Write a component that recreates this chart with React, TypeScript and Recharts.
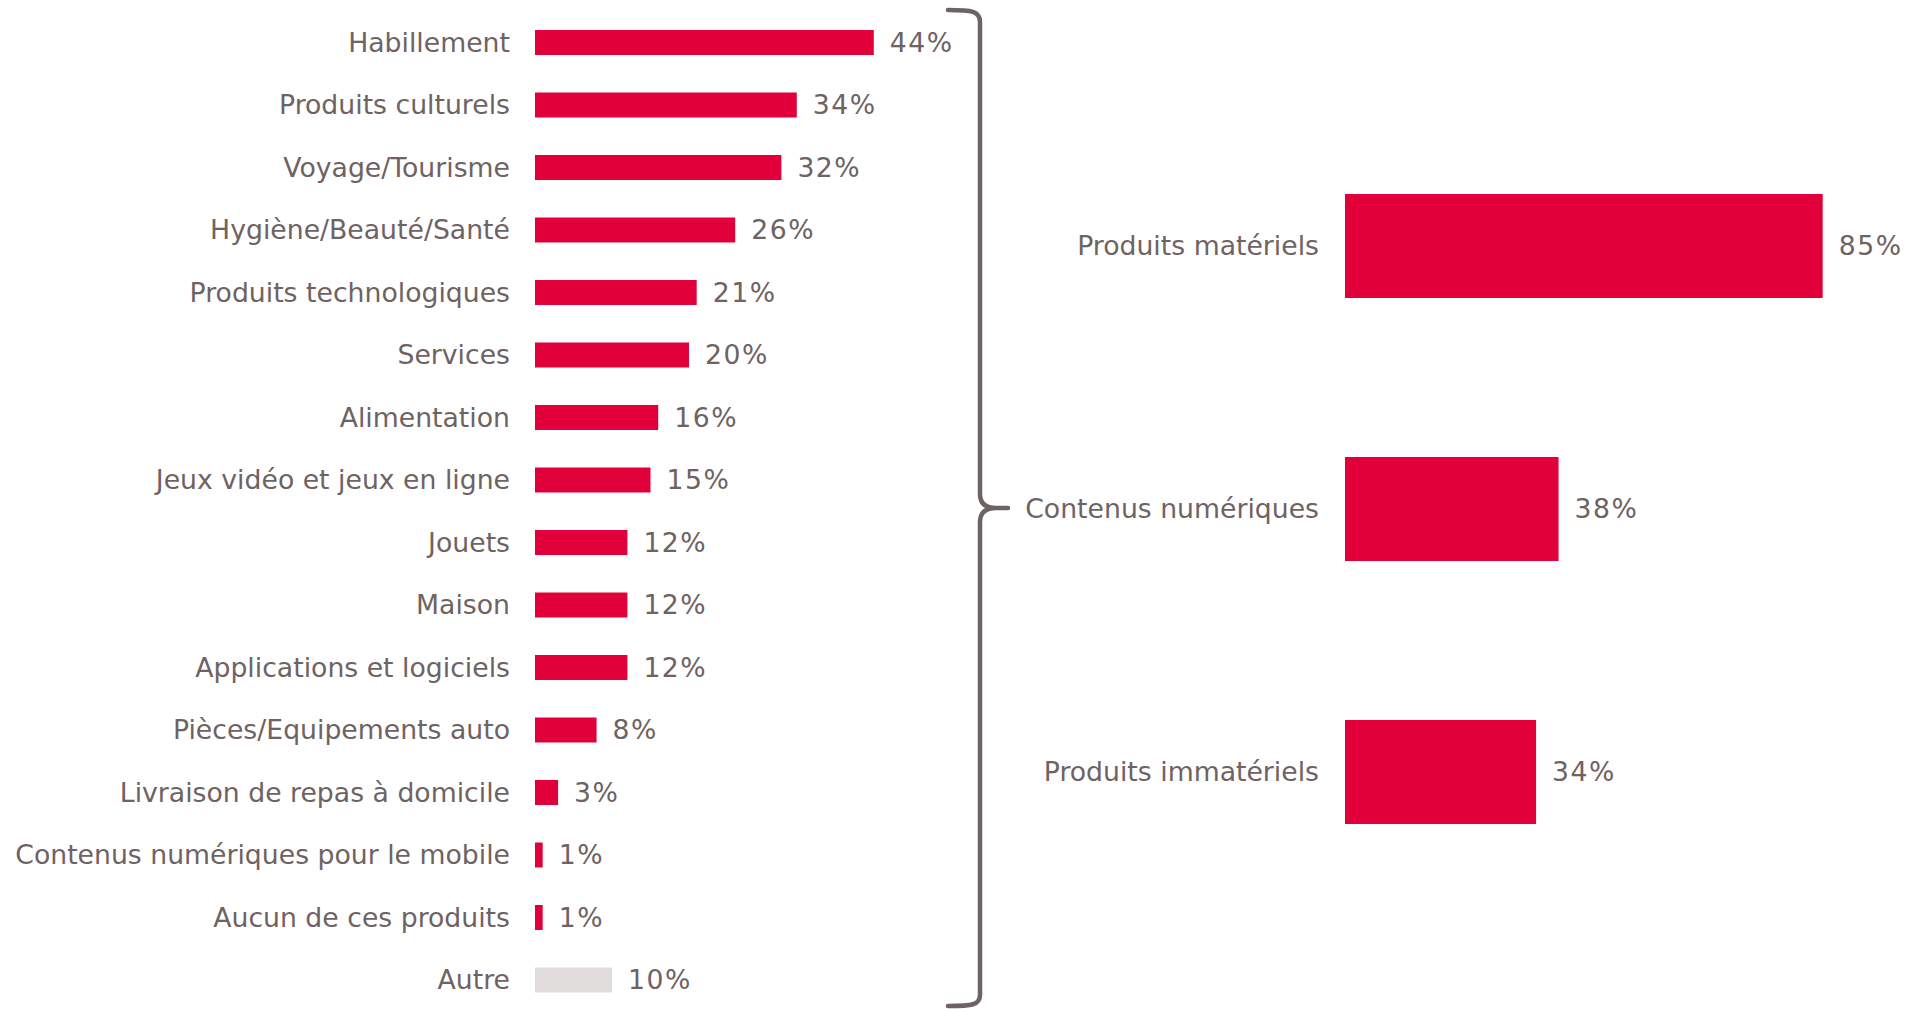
import React from 'react';
import { BarChart, Bar, XAxis, YAxis, LabelList, Cell } from 'recharts';

const detailCategories = [
  'Habillement',
  'Produits culturels',
  'Voyage/Tourisme',
  'Hygiène/Beauté/Santé',
  'Produits technologiques',
  'Services',
  'Alimentation',
  'Jeux vidéo et jeux en ligne',
  'Jouets',
  'Maison',
  'Applications et logiciels',
  'Pièces/Equipements auto',
  'Livraison de repas à domicile',
  'Contenus numériques pour le mobile',
  'Aucun de ces produits',
  'Autre',
];
const detailValues = [44, 34, 32, 26, 21, 20, 16, 15, 12, 12, 12, 8, 3, 1, 1, 10];

const groupCategories = ['Produits matériels', 'Contenus numériques', 'Produits immatériels'];
const groupValues = [85, 38, 34];

const RED = '#E1003A';
const GREY_BAR = '#E0DCDC';
const TEXT = '#6F6262';
const FONT = '"DejaVu Sans", Verdana, sans-serif';
const FS = 26.7;

const detailData = detailCategories.map((name, i) => ({ name, value: detailValues[i] }));
const groupData = groupCategories.map((name, i) => ({ name, value: groupValues[i] }));

const pct = (v: any) => `${v}%`;
const labelStyle = { fill: TEXT, fontSize: FS, fontFamily: FONT, letterSpacing: 1.5 };

export default function App() {
  return (
    <div style={{ position: 'absolute', left: 0, top: 0, width: 1921, height: 1009, background: '#fff', fontFamily: FONT, overflow: 'hidden' }}>
      <div style={{ position: 'absolute', left: 0, top: 0 }}>
        <BarChart
          width={960}
          height={1011}
          layout="vertical"
          data={detailData}
          margin={{ top: 11, right: 40, bottom: 0, left: 0 }}
        >
          <XAxis type="number" domain={[0, 50]} hide />
          <YAxis
            type="category"
            dataKey="name"
            width={535}
            axisLine={false}
            tickLine={false}
            tickSize={0}
            tickMargin={25}
            interval={0}
            tick={{ fill: TEXT, fontSize: FS, fontFamily: FONT }}
          />
          <Bar dataKey="value" barSize={25} isAnimationActive={false}>
            {detailData.map((d, i) => (
              <Cell key={i} fill={d.name === 'Autre' ? GREY_BAR : RED} />
            ))}
            <LabelList
              dataKey="value"
              position="right"
              offset={16}
              formatter={pct}
              style={labelStyle}
            />
          </Bar>
        </BarChart>
      </div>

      <svg width={1921} height={1009} style={{ position: 'absolute', left: 0, top: 0, pointerEvents: 'none' }}>
        <path
          d="M948,10 C972,10 980,11 980,22 L980,494 C980,504 986,508 996,508 L1008,508 M996,508 C986,508 980,512 980,522 L980,995 C980,1005 972,1006 948,1006"
          fill="none"
          stroke={TEXT}
          strokeWidth={4.5}
          strokeLinecap="round"
        />
      </svg>

      <div style={{ position: 'absolute', left: 1000, top: 0 }}>
        <BarChart
          width={921}
          height={1009}
          layout="vertical"
          data={groupData}
          margin={{ top: 114, right: 14, bottom: 106, left: 0 }}
        >
          <XAxis type="number" domain={[0, 100]} hide />
          <YAxis
            type="category"
            dataKey="name"
            width={345}
            axisLine={false}
            tickLine={false}
            tickSize={0}
            tickMargin={26}
            interval={0}
            tick={{ fill: TEXT, fontSize: FS, fontFamily: FONT }}
          />
          <Bar dataKey="value" barSize={104} fill={RED} isAnimationActive={false}>
            <LabelList
              dataKey="value"
              position="right"
              offset={16}
              formatter={pct}
              style={labelStyle}
            />
          </Bar>
        </BarChart>
      </div>
    </div>
  );
}
